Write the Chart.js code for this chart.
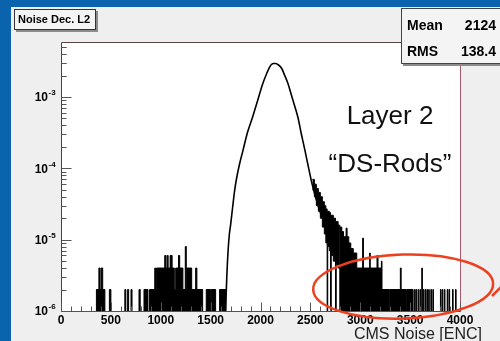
<!DOCTYPE html>
<html>
<head>
<meta charset="utf-8">
<script src="https://cdn.jsdelivr.net/npm/chart.js@4/dist/chart.umd.min.js"></script>
<style>
  html, body { margin: 0; padding: 0; background: #efefef; }
  #wrap { width: 500px; height: 341px; }
</style>
</head>
<body>
<div id="wrap"><canvas id="myChart" width="500" height="341"></canvas></div>
<script>
// empty bins sit below the log axis and get clipped away
const EMPTY = 1e-7;
const L1 = 2e-6, L2 = 4e-6, L3 = 6e-6, L4 = 8e-6;

// smooth core of the noise distribution
const coreEnc = [1650, 1662, 1675, 1688, 1700, 1720, 1740, 1760, 1790, 1825, 1870, 1920, 1970, 2020, 2060, 2090,
  2110, 2130, 2150, 2175, 2210, 2240, 2275, 2320, 2375, 2410, 2445, 2480, 2515, 2560, 2600, 2620];
const coreVal = [1.0e-6, 3e-6, 7e-6, 1.2e-5, 1.6e-5, 2.8e-5, 4.8e-5, 7.2e-5, 1.15e-4, 1.8e-4, 3.2e-4, 5.2e-4, 8.8e-4, 1.5e-3, 2.1e-3, 2.6e-3,
  2.85e-3, 2.95e-3, 2.95e-3, 2.85e-3, 2.55e-3, 2.05e-3, 1.55e-3, 9.5e-4, 5.2e-4, 3.0e-4, 1.8e-4, 1.05e-4, 6.2e-5, 3.6e-5, 2.4e-5, 2.0e-5];

// low-count bins (left edges + contents), filled down to the axis
const noiseEnc = [0, 355, 380, 391, 402, 418, 440, 485, 500, 640, 650, 668, 678, 702, 712, 782, 794, 832, 872, 888,
  940, 948, 958, 1040, 1052, 1064, 1074, 1094, 1114, 1136, 1150, 1178, 1190, 1222, 1246, 1256, 1262, 1310, 1350, 1362,
  1420, 1456, 1500, 1506, 1550, 1590, 1652,
  2795, 2815, 2832, 2858, 2868, 2885, 2905, 2930, 2965, 3024, 3032, 3094, 3100, 3168, 3178, 3212, 3218, 3290, 3296,
  3402, 3410, 3460, 3466, 3530, 3545, 3551, 3562, 3568, 3582, 3588, 3600, 3606, 3617, 3623, 3632, 3638, 3650, 3656,
  3668, 3674, 3686, 3692, 3708, 3714, 3728, 3734, 3804, 3810, 3822, 3828, 3843, 3849, 3872, 3878, 3890, 3896,
  3925, 3931, 3955, 3961, 4000];
const noiseVal = [EMPTY, L1, L2, L1, L2, L1, EMPTY, L1, EMPTY, L1, EMPTY, L1, EMPTY, L1, EMPTY, L1, EMPTY, L1, EMPTY, L1,
  L2, L1, L2, L3, L2, L3, L2, L3, L2, L1, L2, L3, L2, L1, L4, L1, L2, L1, L2, L1,
  EMPTY, L1, EMPTY, L1, EMPTY, L1, EMPTY,
  1.5e-5, 1.3e-5, 1.1e-5, 1.45e-5, 1.1e-5, 9e-6, 7.5e-6, 6.5e-6, L2, 1.05e-5, L2, 6.5e-6, L2, L3, L2, 5e-6, L1, EMPTY, L1,
  L2, L1, EMPTY, L1, EMPTY, L1, EMPTY, L1, EMPTY, L1, EMPTY, L1, EMPTY, L2, EMPTY, L1, EMPTY, L1, EMPTY,
  L1, EMPTY, L1, EMPTY, L1, EMPTY, L1, EMPTY, L1, EMPTY, L1, EMPTY, L1, EMPTY, L1, EMPTY, L1, EMPTY,
  L1, EMPTY, L1, EMPTY, EMPTY];

// noisy band on the right flank (upper and lower envelope)
const bandEnc = [2520, 2540, 2560, 2580, 2600, 2620, 2640, 2655, 2668, 2674, 2690, 2702, 2709, 2730, 2752, 2759, 2778, 2795];
const bandHi = [7e-5, 6e-5, 5.2e-5, 4.6e-5, 4e-5, 3.4e-5, 3e-5, 2.7e-5, 2.5e-5, 2.5e-5, 2.4e-5, 2.2e-5, 2.2e-5, 2e-5, 1.8e-5, 1.8e-5, 1.6e-5, 1.5e-5];
const bandLo = [5e-5, 4e-5, 3e-5, 2.5e-5, 2e-5, 1.5e-5, 1.2e-5, 9e-6, EMPTY, 8e-6, 7e-6, EMPTY, 6e-6, 5e-6, EMPTY, 4.5e-6, 4e-6, 4e-6];

const xTicks = [0, 500, 1000, 1500, 2000, 2500, 3000, 3500, 4000];
const yTickExp = [-6, -5, -4, -3];

const FONT = '"Liberation Sans", Arial, Helvetica, sans-serif';

function pts(xs, ys) {
  return xs.map((x, i) => ({x: x, y: ys[i]}));
}

function seg(ctx, x1, y1, x2, y2) {
  ctx.beginPath();
  ctx.moveTo(x1, y1);
  ctx.lineTo(x2, y2);
  ctx.stroke();
}

// ROOT-like pad: grey canvas, white frame, inward ticks, pave boxes
const rootPad = {
  id: 'rootPad',
  beforeDraw(chart) {
    const {ctx, chartArea: a, width, height} = chart;
    ctx.save();
    ctx.fillStyle = '#efefef';
    ctx.fillRect(0, 0, width, height);
    ctx.fillStyle = '#0b63ae';
    ctx.fillRect(0, 0, width, 7);
    ctx.fillRect(0, 0, 11, height);
    ctx.fillStyle = '#ffffff';
    ctx.fillRect(a.left, a.top, a.right - a.left, a.bottom - a.top);
    ctx.restore();
  },
  afterDatasetsDraw(chart) {
    const {ctx, chartArea: a, scales: {x, y}} = chart;
    const L = Math.round(a.left) + 0.5, R = Math.round(a.right) + 0.5;
    const T = Math.round(a.top) + 0.5, B = Math.round(a.bottom) + 0.5;
    ctx.save();
    ctx.lineWidth = 1;

    // frame
    ctx.strokeStyle = '#5a4444';
    seg(ctx, L, T, R, T);
    ctx.strokeStyle = '#a8596a';
    seg(ctx, R, T, R, B);
    ctx.strokeStyle = '#444444';
    seg(ctx, L, T, L, B);
    ctx.strokeStyle = '#8a3a3a';
    seg(ctx, L, B, R, B);

    // y ticks (log, inward)
    ctx.strokeStyle = '#555555';
    for (const e of yTickExp) {
      for (let m = 1; m <= 9; m++) {
        const v = m * Math.pow(10, e);
        if (v > y.max) break;
        const py = Math.round(y.getPixelForValue(v)) + 0.5;
        seg(ctx, L, py, L + (m === 1 ? 10 : 5), py);
      }
    }
    for (let m = 2; m <= 9; m++) {
      const v = m * 1e-3;
      if (v > y.max) break;
      const py = Math.round(y.getPixelForValue(v)) + 0.5;
      seg(ctx, L, py, L + 5, py);
    }
    // x ticks
    for (let v = 0; v <= 4000; v += 100) {
      const px = Math.round(x.getPixelForValue(v)) + 0.5;
      seg(ctx, px, B, px, B - (v % 500 === 0 ? 9 : 5));
    }

    // tick labels
    ctx.fillStyle = '#000';
    ctx.font = 'bold 12px ' + FONT;
    ctx.textAlign = 'center';
    ctx.textBaseline = 'middle';
    for (const v of xTicks) {
      ctx.fillText(String(v), x.getPixelForValue(v), a.bottom + 10);
    }
    for (const e of yTickExp) {
      const py = y.getPixelForValue(Math.pow(10, e));
      ctx.font = 'bold 12px ' + FONT;
      ctx.textAlign = 'right';
      ctx.fillText('10', 48, py + 1);
      ctx.font = 'bold 8px ' + FONT;
      ctx.textAlign = 'left';
      ctx.fillText(String(e), 48.5, py - 4);
    }

    // axis title
    ctx.font = '16px ' + FONT;
    ctx.fillStyle = '#222';
    ctx.textAlign = 'right';
    ctx.textBaseline = 'alphabetic';
    ctx.fillText('CMS Noise [ENC]', 482, 339);

    // labels inside the frame
    ctx.fillStyle = '#111';
    ctx.font = '26px ' + FONT;
    ctx.textAlign = 'center';
    ctx.fillText('Layer 2', 390, 124);
    ctx.fillText('\u201CDS-Rods\u201D', 390, 172);

    // title pave
    ctx.fillStyle = '#8c8c8c';
    ctx.fillRect(16, 11, 82, 21);
    ctx.fillStyle = '#f4f4f4';
    ctx.fillRect(14.5, 9.5, 81, 20);
    ctx.strokeStyle = '#333';
    ctx.strokeRect(14.5, 9.5, 81, 20);
    ctx.fillStyle = '#000';
    ctx.font = 'bold 11px ' + FONT;
    ctx.textAlign = 'left';
    ctx.textBaseline = 'middle';
    ctx.fillText('Noise Dec. L2', 18, 20);

    // stats pave
    ctx.fillStyle = '#8c8c8c';
    ctx.fillRect(403, 10, 100, 56);
    ctx.fillStyle = '#f4f4f4';
    ctx.fillRect(401.5, 8.5, 100, 55);
    ctx.strokeStyle = '#444';
    ctx.strokeRect(401.5, 8.5, 100, 55);
    ctx.fillStyle = '#000';
    ctx.font = 'bold 14px ' + FONT;
    ctx.textBaseline = 'alphabetic';
    ctx.textAlign = 'left';
    ctx.fillText('Mean', 407, 30);
    ctx.fillText('RMS', 407, 56);
    ctx.textAlign = 'right';
    ctx.fillText('2124', 496, 30);
    ctx.fillText('138.4', 496, 56);

    // red highlight around the tail
    ctx.strokeStyle = '#ee3f1f';
    ctx.lineWidth = 2.5;
    ctx.beginPath();
    ctx.ellipse(x.getPixelForValue(3430), y.getPixelForValue(2.2e-6), 90, 32, -0.035, 0, Math.PI * 2);
    ctx.stroke();
    seg(ctx, 492, 296, 501, 287);
    ctx.restore();
  }
};

const data = {
  datasets: [{
    label: 'core',
    data: pts(coreEnc, coreVal),
    borderColor: '#000',
    borderWidth: 1.6,
    pointRadius: 0,
    cubicInterpolationMode: 'monotone',
    fill: false,
  }, {
    label: 'noise',
    data: pts(noiseEnc, noiseVal),
    stepped: 'before',
    borderColor: '#000',
    backgroundColor: '#000',
    borderWidth: 1,
    pointRadius: 0,
    fill: 'start',
  }, {
    label: 'bandHi',
    data: pts(bandEnc, bandHi),
    stepped: 'before',
    borderColor: '#000',
    backgroundColor: '#000',
    borderWidth: 1,
    pointRadius: 0,
    fill: '+1',
  }, {
    label: 'bandLo',
    data: pts(bandEnc, bandLo),
    stepped: 'before',
    borderColor: '#000',
    borderWidth: 1,
    pointRadius: 0,
    fill: false,
  }]
};

const config = {
  type: 'line',
  data: data,
  options: {
    responsive: false,
    animation: false,
    devicePixelRatio: 1,
    layout: {
      padding: {left: 61, right: 40, top: 42, bottom: 30}
    },
    scales: {
      x: {type: 'linear', min: 0, max: 4000, display: false},
      y: {type: 'logarithmic', min: 1e-6, max: 5.9e-3, display: false}
    },
    plugins: {
      legend: {display: false},
      tooltip: {enabled: false}
    }
  },
  plugins: [rootPad]
};

const myChart = new Chart(
  document.getElementById('myChart'),
  config
);
</script>
</body>
</html>
